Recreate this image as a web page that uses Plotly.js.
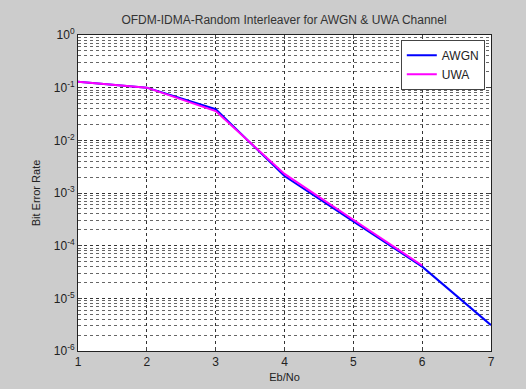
<!DOCTYPE html>
<html>
<head>
<meta charset="utf-8">
<script src="https://cdn.plot.ly/plotly-3.0.1.min.js"></script>
<style>html,body{margin:0;padding:0;background:#cccccc;}</style>
</head>
<body>
<div id="chart" style="width:526px;height:389px;"></div>
<script>
const ebNoAWGN = [1, 2, 3, 4, 5, 6, 7];
const berAWGN = [0.13, 0.1, 0.039, 0.0021, 0.00029, 0.00004, 0.0000031];
const ebNoUWA = [1, 2, 3, 4, 5, 6];
const berUWA = [0.13, 0.1, 0.036, 0.0023, 0.00031, 0.000042];
const yTickVals = [1, 0.1, 0.01, 0.001, 0.0001, 0.00001, 0.000001];
const yTickText = ['10<sup>0</sup>', '10<sup>-1</sup>', '10<sup>-2</sup>', '10<sup>-3</sup>', '10<sup>-4</sup>', '10<sup>-5</sup>', '10<sup>-6</sup>'];
const xTickVals = [1, 2, 3, 4, 5, 6, 7];

const traces = [
  {x: ebNoAWGN, y: berAWGN, name: 'AWGN', mode: 'lines', line: {color: '#0000ff', width: 2}},
  {x: ebNoUWA, y: berUWA, name: 'UWA', mode: 'lines', line: {color: '#ff00ff', width: 2}}
];

const layout = {
  width: 526, height: 389,
  paper_bgcolor: '#cccccc', plot_bgcolor: '#ffffff',
  margin: {l: 78, r: 35, t: 35, b: 38},
  font: {family: 'Arial, Liberation Sans, sans-serif', size: 11, color: '#222'},
  title: {text: 'OFDM-IDMA-Random Interleaver for AWGN & UWA Channel', x: 0.54, xanchor: 'center', y: 0.95, yanchor: 'middle', font: {size: 12, color: '#333'}},
  xaxis: {
    range: [1, 7], tickvals: xTickVals, ticks: 'inside', ticklen: 4,
    showline: true, linecolor: '#222', linewidth: 1, mirror: 'ticks',
    showgrid: true, gridcolor: '#333', griddash: 'dot', gridwidth: 1,
    zeroline: false,
    title: {text: 'Eb/No', standoff: 4, font: {size: 11}},
    tickfont: {size: 12}
  },
  yaxis: {
    type: 'log', range: [-6, 0], tickvals: yTickVals, ticktext: yTickText,
    ticks: 'inside', ticklen: 4,
    showline: true, linecolor: '#222', linewidth: 1, mirror: 'ticks',
    showgrid: true, gridcolor: '#333', griddash: 'dot', gridwidth: 1,
    minor: {dtick: 'D1', showgrid: true, gridcolor: '#666', griddash: 'dot', gridwidth: 1, ticks: ''},
    zeroline: false,
    title: {text: 'Bit Error Rate', standoff: 10, font: {size: 11}},
    tickfont: {size: 12}
  },
  legend: {
    x: 0.985, y: 0.985, xanchor: 'right', yanchor: 'top',
    bgcolor: '#ffffff', bordercolor: '#444', borderwidth: 1,
    font: {size: 12}, tracegroupgap: 0
  },
  showlegend: true
};

Plotly.newPlot('chart', traces, layout, {displayModeBar: false, staticPlot: true});
</script>
</body>
</html>
